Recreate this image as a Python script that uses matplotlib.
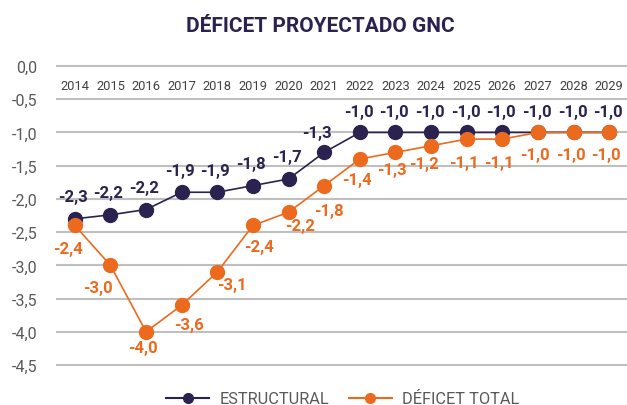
import matplotlib
matplotlib.use("Agg")
import matplotlib.pyplot as plt
from matplotlib.lines import Line2D

plt.rcParams['font.family'] = ['Roboto', 'DejaVu Sans']

years = ['2014', '2015', '2016', '2017', '2018', '2019', '2020', '2021',
         '2022', '2023', '2024', '2025', '2026', '2027', '2028', '2029']
estructural = [-2.3, -2.24, -2.16, -1.9, -1.9, -1.8, -1.7, -1.3,
               -1.0, -1.0, -1.0, -1.0, -1.0, -1.0, -1.0, -1.0]
deficit_total = [-2.4, -3.0, -4.0, -3.6, -3.1, -2.4, -2.2, -1.8,
                 -1.4, -1.3, -1.2, -1.1, -1.1, -1.0, -1.0, -1.0]
estructural_labels = ['-2,3', '-2,2', '-2,2', '-1,9', '-1,9', '-1,8', '-1,7', '-1,3',
                      '-1,0', '-1,0', '-1,0', '-1,0', '-1,0', '-1,0', '-1,0', '-1,0']
total_labels = ['-2,4', '-3,0', '-4,0', '-3,6', '-3,1', '-2,4', '-2,2', '-1,8',
                '-1,4', '-1,3', '-1,2', '-1,1', '-1,1', '-1,0', '-1,0', '-1,0']
yticks = [0.0, -0.5, -1.0, -1.5, -2.0, -2.5, -3.0, -3.5, -4.0, -4.5]

# label offsets (pixels) for total series
total_off = [(-7, -23), (-13, -22), (-3, -16), (7, -19), (15, -13), (6, -21), (11, -13), (5, -25),
             (-3, -20), (-3, -17), (-7, -18), (-3, -23), (-3, -23), (-3, -22), (-3, -22), (-3, -22)]
est_off = [(-2, 22)] * 7 + [(-7, 20)] + [(-1, 21)] * 8

NAVY = '#2b2250'
ORANGE = '#ec6a1e'
GRID = '#bfbfbf'
TXT = '#595959'

fig = plt.figure(figsize=(6.27, 4.06), dpi=100)
ax = fig.add_axes([57/627, 1-366/406, 1-57/627, (366-67)/406])
x = list(range(len(years)))

ax.set_xlim(-0.5, len(years) - 0.5)
ax.set_ylim(-4.5, 0)
ax.set_yticks(yticks)
ax.set_yticklabels([f"{v:.1f}".replace('.', ',') for v in yticks], color=TXT, fontsize=11.5)
ax.tick_params(axis='y', length=0, pad=14)
ax.set_xticks([])
for s in ax.spines.values():
    s.set_visible(False)
for v in yticks:
    ax.axhline(v, color=GRID, lw=1.5, zorder=0, clip_on=False)

ax.plot(x, estructural, color=NAVY, lw=1.2, marker='o', ms=10, clip_on=False, zorder=3)
ax.plot(x, deficit_total, color=ORANGE, lw=1.2, marker='o', ms=10, clip_on=False, zorder=4)

for i in x:
    ax.annotate(years[i], (i, -0.29), ha='center', va='center', fontsize=9.3, color='#404040')
    ax.annotate(estructural_labels[i], (i, estructural[i]), xytext=est_off[i],
                textcoords='offset pixels', ha='center', va='center', fontsize=12,
                fontweight='bold', color=NAVY, zorder=5)
    ax.annotate(total_labels[i], (i, deficit_total[i]), xytext=total_off[i],
                textcoords='offset pixels', ha='center', va='center', fontsize=12,
                fontweight='bold', color=ORANGE, zorder=5)

fig.text(320/627, 1-27/406, 'DÉFICET PROYECTADO GNC', ha='center', va='center',
         fontsize=15, fontweight='bold', color=NAVY)

handles = [Line2D([], [], color=NAVY, lw=1.5, marker='o', ms=7),
           Line2D([], [], color=ORANGE, lw=1.5, marker='o', ms=7)]
fig.legend(handles, ['ESTRUCTURAL', 'DÉFICET TOTAL'], loc='center',
           bbox_to_anchor=(343/627, 1-400/406), ncol=2, frameon=False,
           fontsize=11.8, labelcolor=TXT, handlelength=2.6, columnspacing=1.2,
           handletextpad=0.66)

fig.savefig('out.png', dpi=100)
